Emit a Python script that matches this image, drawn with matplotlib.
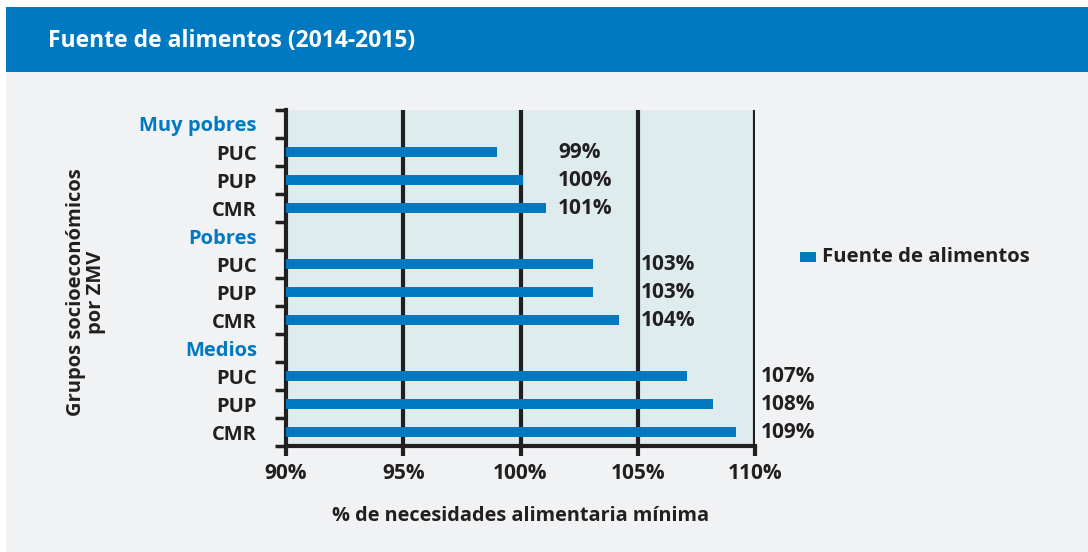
import numpy as np
import matplotlib.pyplot as plt
from matplotlib.patches import Rectangle

# data
groups = ['Muy pobres', 'Pobres', 'Medios']
subgroups = ['PUC', 'PUP', 'CMR']
values = [[99.0, 100.1, 101.1],
          [103.1, 103.1, 104.2],
          [107.1, 108.2, 109.2]]
value_labels = [['99%', '100%', '101%'],
                ['103%', '103%', '104%'],
                ['107%', '108%', '109%']]
xticks = [90, 95, 100, 105, 110]
label_x = [101.6, 105.15, 110.25]   # where the % labels sit for each group

BLUE = '#0079c1'
DARK = '#231f20'

plt.rcParams['font.family'] = ['Open Sans', 'DejaVu Sans']
plt.rcParams['font.weight'] = 'bold'

fig = plt.figure(figsize=(10.88, 5.52), dpi=100)
fig.patch.set_facecolor('white')
W, H = 1088.0, 552.0
# grey panel + blue header band
fig.patches.append(Rectangle((6 / W, 0), 1, 480 / H, transform=fig.transFigure,
                             facecolor='#f1f2f4', edgecolor='none', zorder=-2))
fig.patches.append(Rectangle((6 / W, 480 / H), 1, 65 / H, transform=fig.transFigure,
                             facecolor=BLUE, edgecolor='none', zorder=-1))
fig.text(48 / W, 1 - 41 / H, 'Fuente de alimentos (2014-2015)', color='white',
         fontsize=16.5, fontweight='bold', va='center', ha='left')

ax = fig.add_axes([286 / W, 106 / H, 469 / W, 336 / H])
ax.set_facecolor('#deeced')

# build row layout: header row then the three subgroups
ylabels, ycolors = [], []
bar_y, bar_v, txt_y, txt_s, txt_x = [], [], [], [], []
row = 0
for g, grp in enumerate(groups):
    ylabels.append(grp)
    ycolors.append(BLUE)
    row += 1
    for s, sub in enumerate(subgroups):
        ylabels.append(sub)
        ycolors.append(DARK)
        bar_y.append(row)
        bar_v.append(values[g][s])
        txt_y.append(row)
        txt_s.append(value_labels[g][s])
        txt_x.append(label_x[g])
        row += 1

ax.barh(bar_y, np.array(bar_v) - 90, left=90, height=0.36, color=BLUE, zorder=3)
for x, y, s in zip(txt_x, txt_y, txt_s):
    ax.text(x, y, s, ha='left', va='center', fontsize=15, fontweight='bold',
            color=DARK, zorder=4)

ax.set_xlim(90, 110)
ax.set_ylim(row - 0.5, -0.5)
ax.set_xticks(xticks)
ax.set_xticklabels([f'{t}%' for t in xticks], fontsize=15, fontweight='bold', color=DARK)
ax.set_yticks(range(row))
ax.set_yticklabels(ylabels, fontsize=14.5, fontweight='bold')
for lab, c in zip(ax.get_yticklabels(), ycolors):
    lab.set_color(c)
ax.set_yticks(np.arange(-0.5, row, 1.0), minor=True)
ax.tick_params(axis='y', which='major', length=0, pad=21)
ax.tick_params(axis='y', which='minor', length=8, width=2.5, color=DARK)
ax.tick_params(axis='x', length=7, width=3, color=DARK, pad=5)

for sp in ['top', 'right']:
    ax.spines[sp].set_visible(False)
for sp in ['left', 'bottom']:
    ax.spines[sp].set_linewidth(3)
    ax.spines[sp].set_color(DARK)
for t in xticks[1:]:
    ax.axvline(t, color=DARK, linewidth=3, zorder=2)

ax.set_xlabel('% de necesidades alimentaria mínima', fontsize=14.3, fontweight='bold',
              color=DARK, labelpad=16)
fig.text(86 / W, 1 - 292 / H, 'Grupos socioeconómicos\npor ZMV', rotation=90,
         ha='center', va='center', fontsize=14.5, fontweight='bold', color=DARK,
         linespacing=1.05)

# legend
fig.patches.append(Rectangle((800 / W, 1 - 262 / H), 16 / W, 10 / H,
                             transform=fig.transFigure, facecolor=BLUE, edgecolor='none'))
fig.text(822 / W, 1 - 257 / H, 'Fuente de alimentos', fontsize=14.6, fontweight='bold',
         color=DARK, va='center', ha='left')

fig.savefig('out.png', dpi=100, facecolor=fig.get_facecolor())
